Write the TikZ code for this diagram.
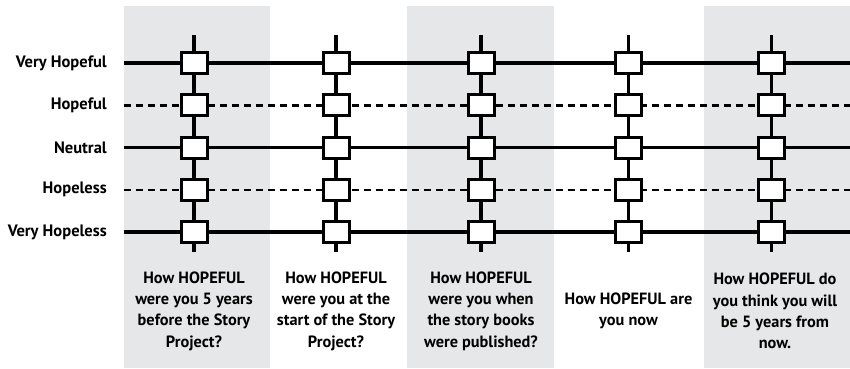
\documentclass[tikz,border=0pt]{standalone}
\usepackage{fontspec}
\setmainfont{PT Sans}
\definecolor{bandgrey}{HTML}{E6E7E8}
\begin{document}
\begin{tikzpicture}[x=1pt,y=-1pt,
  lbl/.style={font=\bfseries\fontsize{16.5}{20}\selectfont, anchor=east, inner sep=0},
  quest/.style={font=\bfseries\fontsize{16.3}{21.3}\selectfont, align=center, anchor=center, inner sep=0},
  cell/.style={draw=black, fill=white, line width=3pt, minimum width=26pt, minimum height=21pt, inner sep=0},
  solidrow/.style={line width=3.2pt},
  dashrow/.style={line width=2.5pt, dash pattern=on 7pt off 5pt},
  stem/.style={line width=3.4pt},
  band/.style={fill=bandgrey, draw=none}]
\useasboundingbox (0,0) rectangle (850,368);
% grey bands
\fill[band] (124,6) rectangle (270,368);
\fill[band] (407,6) rectangle (554,368);
\fill[band] (704,6) rectangle (850,368);
% row coordinates
\foreach \r/\y in {1/63,2/105.25,3/147.5,4/189.75,5/232}{
  \coordinate (rowL\r) at (124,\y);
  \coordinate (rowR\r) at (850,\y);
}
% labels
\node[lbl] (lab1) at (107,63) {Very Hopeful};
\node[lbl] (lab2) at (107,105.25) {Hopeful};
\node[lbl] (lab3) at (107,147.5) {Neutral};
\node[lbl] (lab4) at (107,189.75) {Hopeless};
\node[lbl] (lab5) at (107,232) {Very Hopeless};
% horizontal lines
\draw[solidrow] (rowL1) -- (rowR1);
\draw[dashrow] (rowL2) -- (rowR2);
\draw[solidrow] (rowL3) -- (rowR3);
\draw[dashrow] (rowL4) -- (rowR4);
\draw[solidrow] (rowL5) -- (rowR5);
% columns
\foreach \c/\x in {1/194,2/336,3/481,4/628.5,5/771.5}{
  \coordinate (top\c) at (\x,35);
  \coordinate (bot\c) at (\x,252);
  \draw[stem] (top\c) -- (bot\c);
  \foreach \r/\y in {1/63,2/105.25,3/147.5,4/189.75,5/232}{
    \node[cell] (c\c r\r) at (\x,\y) {};
  }
}
% questions
\node[quest] (q1) at (194,311) {How HOPEFUL\\were you 5 years\\before the Story\\Project?};
\node[quest] (q2) at (336,311) {How HOPEFUL\\were you at the\\start of the Story\\Project?};
\node[quest] (q3) at (481,311) {How HOPEFUL\\were you when\\the story books\\were published?};
\node[quest] (q4) at (628.5,311) {How HOPEFUL are\\you now};
\node[quest] (q5) at (775,311) {How HOPEFUL do\\you think you will\\be 5 years from\\now.};
\end{tikzpicture}
\end{document}
